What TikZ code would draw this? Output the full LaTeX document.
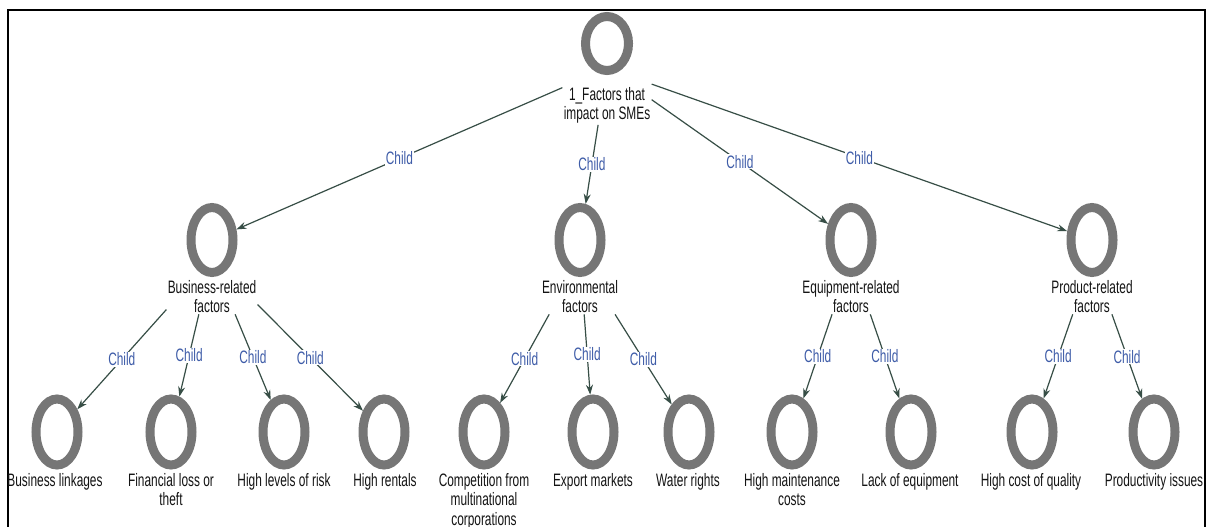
\documentclass[tikz,border=0pt]{standalone}
\usepackage{fontspec}
\setmainfont{Liberation Sans}[FakeStretch=0.66]
\usetikzlibrary{arrows.meta,fit,shapes.geometric}
\definecolor{ringgray}{RGB}{118,118,118}
\definecolor{linkcol}{RGB}{55,78,70}
\definecolor{childblue}{RGB}{62,92,168}
\definecolor{txt}{RGB}{20,20,20}

\begin{document}
\begin{tikzpicture}[x=1pt,y=-1pt,
  ring/.style={ellipse, draw=ringgray, line width=9pt, minimum width=42pt,
    minimum height=65pt, inner sep=0pt},
  leafring/.style={ring, minimum height=66pt},
  caption/.style={anchor=north, align=center, inner sep=1pt, text=txt,
    font=\fontsize{18}{19.5}\selectfont},
  grp/.style={inner sep=0pt, draw=none},
  link/.style={draw=linkcol, line width=1.2pt, -{Stealth[length=10pt,width=7pt]}},
  rel/.style={fill=white, inner sep=1pt, text=childblue,
    font=\fontsize{18}{19.5}\selectfont, pos=0.5}
]
\clip (0,0) rectangle (1207,527);
\fill[white] (0,0) rectangle (1207,527);

% frame
\draw[line width=2pt] (8.3,560) -- (8.3,10) -- (1205,10) -- (1205,560);

% root
\node[ring, minimum width=43pt, minimum height=54pt] (r) at (607,43.5) {};
\node[caption] (rl) at (607,86) {1\_Factors that\\impact on SMEs};
\node[grp, fit=(r)(rl)] (rg) {};

% second level
\node[ring] (b) at (212,240) {};
\node[caption] (bl) at (212,279) {Business-related\\factors};
\node[grp, fit=(b)(bl)] (bg) {};

\node[ring] (e) at (580,240) {};
\node[caption] (el) at (580,279) {Environmental\\factors};
\node[grp, fit=(e)(el)] (eg) {};

\node[ring] (q) at (851,240) {};
\node[caption] (ql) at (851,279) {Equipment-related\\factors};
\node[grp, fit=(q)(ql)] (qg) {};

\node[ring] (p) at (1092,240) {};
\node[caption] (pl) at (1092,279) {Product-related\\factors};
\node[grp, fit=(p)(pl)] (pg) {};

% leaves
\node[leafring] (b1) at (57,432) {};
\node[caption] at (55,472) {Business linkages};
\node[leafring] (b2) at (171,432) {};
\node[caption] at (171,472) {Financial loss or\\theft};
\node[leafring] (b3) at (284,432) {};
\node[caption] at (284,472) {High levels of risk};
\node[leafring] (b4) at (384,432) {};
\node[caption] at (385,472) {High rentals};

\node[leafring] (e1) at (484,432) {};
\node[caption] at (484,472) {Competition from\\multinational\\corporations};
\node[leafring] (e2) at (593,432) {};
\node[caption] at (593,472) {Export markets};
\node[leafring] (e3) at (689,432) {};
\node[caption] at (688,472) {Water rights};

\node[leafring] (q1) at (792,432) {};
\node[caption] at (792,472) {High maintenance\\costs};
\node[leafring] (q2) at (911,432) {};
\node[caption] at (910,472) {Lack of equipment};

\node[leafring] (p1) at (1032,432) {};
\node[caption] at (1031,472) {High cost of quality};
\node[leafring] (p2) at (1154,432) {};
\node[caption] at (1154,472) {Productivity issues};

% links
\foreach \c in {b,e,q,p}
  \draw[link] (rg) -- node[rel]{Child} (\c);
\foreach \c in {b1,b2,b3,b4}
  \draw[link] (bg) -- node[rel]{Child} (\c);
\foreach \c in {e1,e2,e3}
  \draw[link] (eg) -- node[rel]{Child} (\c);
\foreach \c in {q1,q2}
  \draw[link] (qg) -- node[rel]{Child} (\c);
\foreach \c in {p1,p2}
  \draw[link] (pg) -- node[rel]{Child} (\c);
\end{tikzpicture}
\end{document}
